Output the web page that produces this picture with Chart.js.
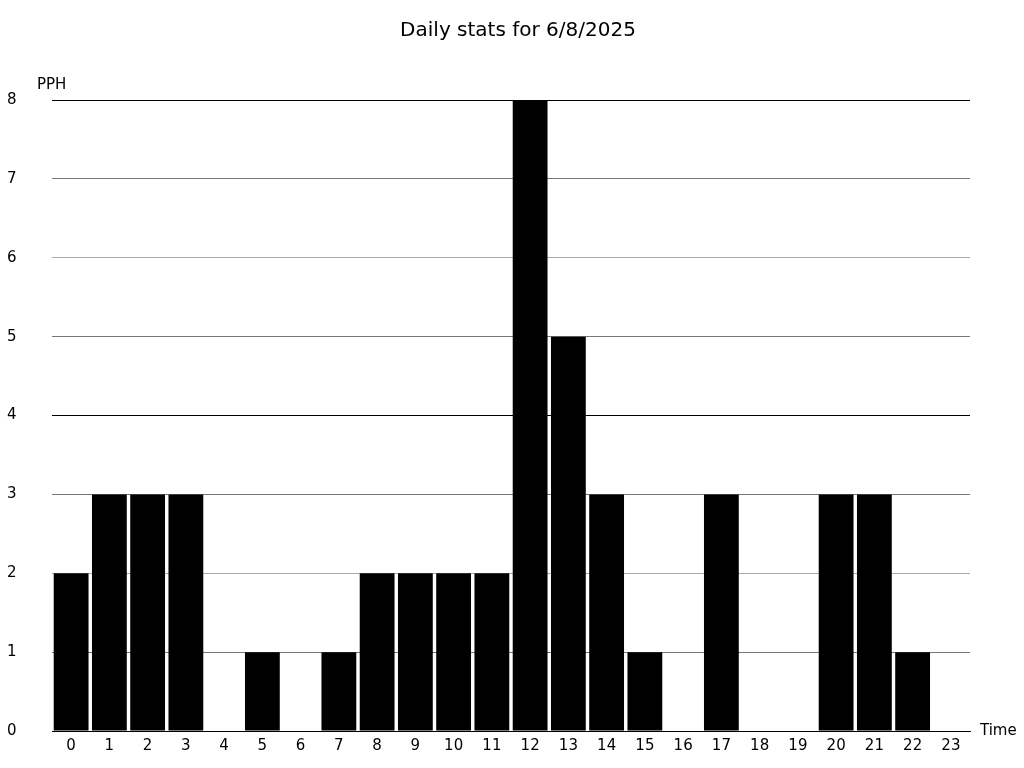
<!DOCTYPE html>
<html>
<head>
<meta charset="utf-8">
<script src="https://cdn.jsdelivr.net/npm/chart.js@4"></script>
<style>
  html, body { margin: 0; padding: 0; background: #fff; }
  #wrap { width: 1024px; height: 768px; }
</style>
</head>
<body>
<div id="wrap"><canvas id="daily-chart"></canvas></div>
<script>
// hours of the day and the PPH value for each
const hours = ["0","1","2","3","4","5","6","7","8","9","10","11","12","13","14","15","16","17","18","19","20","21","22","23"];
const pph = [2, 3, 3, 3, 0, 1, 0, 1, 2, 2, 2, 2, 8, 5, 3, 1, 0, 3, 0, 0, 3, 3, 1, 0];
const yTicks = [0, 1, 2, 3, 4, 5, 6, 7, 8];
const titleText = "Daily stats for 6/8/2025";

// grid line shades by tick value (top, middle and base lines are darker)
const gridShades = ["#000", "#777", "#aaa", "#777", "#000", "#777", "#aaa", "#777", "#000"];

const FONT = "'DejaVu Sans', sans-serif";
Chart.defaults.font.family = FONT;
Chart.defaults.color = "#000";

// title plus axis captions: "PPH" over the y axis, "Time" at the end of the x axis
const captions = {
    id: "captions",
    afterDraw(chart) {
        const { ctx, chartArea } = chart;
        ctx.save();
        ctx.fillStyle = "#000";
        ctx.textBaseline = "middle";
        ctx.textAlign = "center";
        ctx.font = "20px " + FONT;
        ctx.fillText(titleText, (chartArea.left + chartArea.right) / 2 + 7, 31);
        ctx.font = "15px " + FONT;
        ctx.textAlign = "left";
        ctx.fillText("PPH", chartArea.left - 15, chartArea.top - 15);
        ctx.fillText("Time", chartArea.right + 10, chartArea.bottom);
        ctx.restore();
    }
};

new Chart(document.getElementById("daily-chart"), {
    type: "bar",
    data: {
        labels: hours,
        datasets: [{
            data: pph,
            backgroundColor: "#000",
            borderWidth: 0,
            barPercentage: 0.91,
            categoryPercentage: 1.0
        }]
    },
    options: {
        responsive: true,
        maintainAspectRatio: false,
        animation: false,
        layout: { padding: { left: 7, right: 54, top: 100, bottom: 7 } },
        plugins: {
            legend: { display: false },
            tooltip: { enabled: false },
            title: { display: false }
        },
        scales: {
            x: {
                grid: { display: false, drawTicks: false },
                border: { display: true, color: "#000", width: 1 },
                ticks: { font: { size: 15 }, padding: 6, color: "#000" }
            },
            y: {
                min: 0,
                max: 8,
                afterFit(scale) { scale.width = 45; },
                afterBuildTicks(scale) { scale.ticks = yTicks.map(v => ({ value: v })); },
                grid: {
                    drawTicks: false,
                    color: ctx => gridShades[ctx.tick ? ctx.tick.value : 0] || "#777",
                    lineWidth: 1
                },
                border: { display: false },
                ticks: { font: { size: 15 }, color: "#000", crossAlign: "far", padding: 0 }
            }
        }
    },
    plugins: [captions]
});
</script>
</body>
</html>
